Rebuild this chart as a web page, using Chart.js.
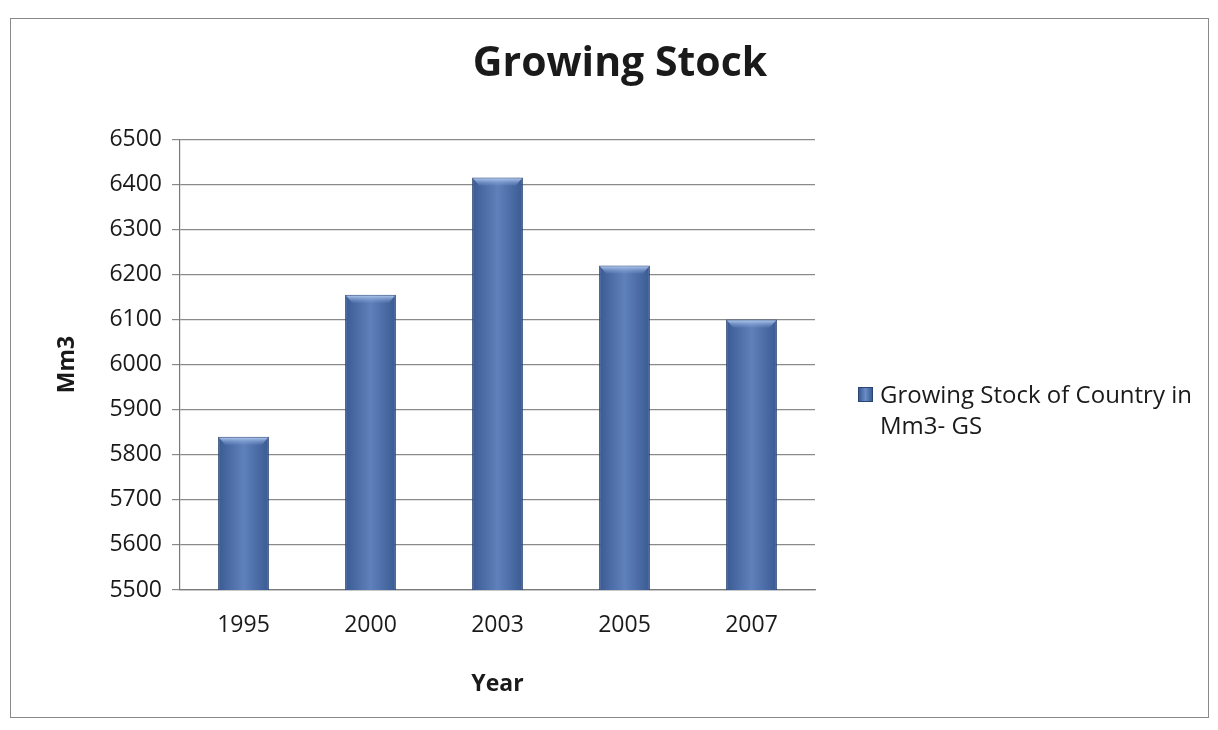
<!DOCTYPE html>
<html>
<head>
<meta charset="utf-8">
<script src="https://cdn.jsdelivr.net/npm/chart.js@4.4.1/dist/chart.umd.min.js"></script>
<style>
  html, body { margin: 0; padding: 0; background: #ffffff; }
  #wrap { position: relative; width: 1218px; height: 730px; overflow: hidden; }
  #frame { position: absolute; left: 10px; top: 18px; width: 1199px; height: 700px; border: 1.5px solid #8a8a8a; box-sizing: border-box; pointer-events: none; }
  canvas { position: absolute; left: 0; top: 0; }
  #legend { position: absolute; left: 858px; top: 378px; font-family: "Open Sans", "Noto Sans", sans-serif; font-size: 24px; line-height: 31px; color: #1a1a1a; }
  #legend .sw { display: inline-block; width: 13px; height: 13px; margin-right: 7px; vertical-align: 1px;
    background: linear-gradient(90deg, #3a5b94, #6a8dc6 50%, #3a5b94); border: 1px solid #2c4472; }
  #legend .l2 { padding-left: 22px; }
</style>
</head>
<body>
<div id="wrap">
  <canvas id="c" width="1218" height="730"></canvas>
  <div id="frame"></div>
  <div id="legend"></div>
</div>
<script>
const categories = ['1995', '2000', '2003', '2005', '2007'];
const seriesName = 'Growing Stock of Country in Mm3- GS';
const legendLines = ['Growing Stock of Country in', 'Mm3- GS'];
const growingStock = [5840, 6155, 6415, 6220, 6100];
const yTicks = [5500, 5600, 5700, 5800, 5900, 6000, 6100, 6200, 6300, 6400, 6500];

const FONT = '"Open Sans", "Noto Sans", sans-serif';

document.getElementById('legend').innerHTML =
  '<div><span class="sw"></span>' + legendLines[0] + '</div><div class="l2">' + legendLines[1] + '</div>';

function barFill(ctx) {
  const chart = ctx.chart;
  const area = chart.chartArea;
  if (!area || !chart.scales.x) return '#4e72ac';
  const x = chart.scales.x.getPixelForValue(ctx.dataIndex);
  const w = 0.4 * (area.right - area.left) / categories.length;
  const g = chart.ctx.createLinearGradient(x - w / 2, 0, x + w / 2, 0);
  g.addColorStop(0, '#3a5a93');
  g.addColorStop(0.5, '#5f81bb');
  g.addColorStop(1, '#3a5a93');
  return g;
}

// light bevel on top of each bar (Excel 2007 style)
const bevel = {
  id: 'bevel',
  afterDatasetsDraw(chart) {
    const meta = chart.getDatasetMeta(0);
    const c = chart.ctx;
    c.save();
    meta.data.forEach(bar => {
      const half = bar.width / 2;
      const l = bar.x - half + 1, r = bar.x + half - 1, t = bar.y + 1;
      const g = c.createLinearGradient(0, t, 0, t + 7);
      g.addColorStop(0, '#a9c3ea');
      g.addColorStop(1, 'rgba(120,150,205,0.2)');
      c.fillStyle = g;
      c.beginPath();
      c.moveTo(l, t);
      c.lineTo(r, t);
      c.lineTo(r - 6, t + 7);
      c.lineTo(l + 6, t + 7);
      c.closePath();
      c.fill();
    });
    c.restore();
  }
};

new Chart(document.getElementById('c'), {
  type: 'bar',
  data: {
    labels: categories,
    datasets: [{
      label: seriesName,
      data: growingStock,
      backgroundColor: barFill,
      borderColor: '#2c4472',
      borderWidth: 1,
      barPercentage: 0.4,
      categoryPercentage: 1.0,
      yAxisID: 'y'
    }]
  },
  plugins: [bevel],
  options: {
    responsive: false,
    animation: false,
    layout: { padding: { left: 50, right: 28, top: 0, bottom: 28 } },
    plugins: {
      legend: { display: false },
      tooltip: { enabled: false },
      title: {
        display: true,
        text: 'Growing Stock',
        color: '#1a1a1a',
        font: { family: FONT, size: 41, weight: 'bold' },
        padding: { top: 40, bottom: 50 }
      }
    },
    scales: {
      x: {
        grid: { display: false, drawOnChartArea: false, drawTicks: false },
        border: { display: true, color: '#7a7a7a', width: 1.2 },
        ticks: { color: '#1a1a1a', font: { family: FONT, size: 23 }, padding: 22 },
        title: { display: true, text: 'Year', color: '#1a1a1a', font: { family: FONT, size: 23, weight: 'bold' }, padding: { top: 10 } },
        afterFit: s => { s.height = 112; }
      },
      y: {
        position: 'left',
        min: 5500,
        max: 6500,
        afterBuildTicks: s => { s.ticks = yTicks.map(v => ({ value: v })); },
        grid: { color: '#8a8a8a', lineWidth: 1.2, tickLength: 8, drawTicks: true },
        border: { display: true, color: '#7a7a7a', width: 1.2 },
        ticks: { color: '#1a1a1a', font: { family: FONT, size: 23 }, padding: 10, callback: v => String(v) },
        title: { display: true, text: 'Mm3', color: '#1a1a1a', font: { family: FONT, size: 23, weight: 'bold' }, padding: { bottom: 16 } },
        afterFit: s => { s.width = 130; }
      },
      legendSpace: {
        type: 'linear',
        position: 'right',
        display: true,
        grid: { display: false, drawTicks: false },
        border: { display: false },
        ticks: { display: false },
        afterFit: s => { s.width = 375; }
      }
    }
  }
});
</script>
</body>
</html>
